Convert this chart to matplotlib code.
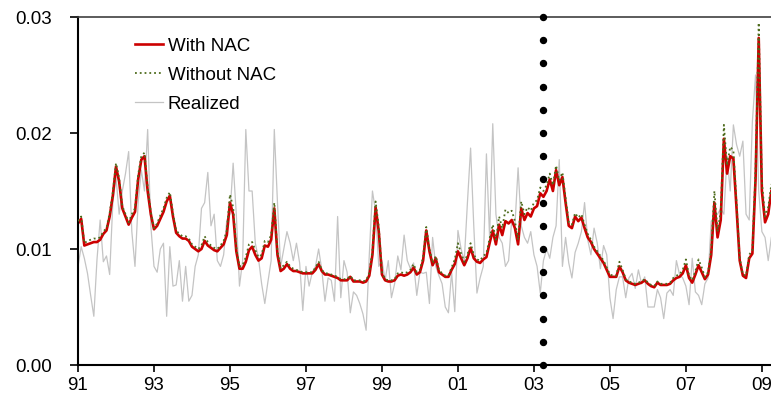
import numpy as np
import matplotlib
matplotlib.use('Agg')
import matplotlib.pyplot as plt

plt.rcParams['font.family'] = ['Liberation Sans', 'DejaVu Sans']

# monthly observations, Jan 1991 .. Apr 2009
start_year = 1991
with_nac = [
    0.0122, 0.0126, 0.0103, 0.0104, 0.0105, 0.0106, 0.0106, 0.0108, 0.0113, 0.0116, 0.0128, 0.0146,
    0.0171, 0.0158, 0.0135, 0.0128, 0.0121, 0.0127, 0.0132, 0.0160, 0.0177, 0.0180, 0.0150, 0.0130,
    0.0117, 0.0120, 0.0126, 0.0132, 0.0141, 0.0146, 0.0128, 0.0114, 0.0111, 0.0109, 0.0109, 0.0107,
    0.0102, 0.0100, 0.0098, 0.0100, 0.0107, 0.0103, 0.0101, 0.0099, 0.0098, 0.0101, 0.0104, 0.0112,
    0.0140, 0.0130, 0.0098, 0.0083, 0.0083, 0.0089, 0.0099, 0.0102, 0.0095, 0.0090, 0.0092, 0.0103,
    0.0102, 0.0108, 0.0135, 0.0095, 0.0081, 0.0083, 0.0087, 0.0083, 0.0081, 0.0081, 0.0080, 0.0079,
    0.0079, 0.0079, 0.0079, 0.0082, 0.0087, 0.0081, 0.0078, 0.0078, 0.0077, 0.0076, 0.0075, 0.0073,
    0.0073, 0.0073, 0.0076, 0.0072, 0.0072, 0.0072, 0.0071, 0.0072, 0.0077, 0.0095, 0.0136, 0.0115,
    0.0078, 0.0073, 0.0072, 0.0072, 0.0073, 0.0077, 0.0078, 0.0077, 0.0078, 0.0080, 0.0084, 0.0078,
    0.0080, 0.0090, 0.0116, 0.0098, 0.0086, 0.0092, 0.0080, 0.0078, 0.0076, 0.0076, 0.0082, 0.0087,
    0.0098, 0.0092, 0.0086, 0.0092, 0.0101, 0.0092, 0.0089, 0.0088, 0.0091, 0.0093, 0.0105, 0.0116,
    0.0104, 0.0121, 0.0112, 0.0124, 0.0122, 0.0125, 0.0118, 0.0104, 0.0135, 0.0125, 0.0131, 0.0128,
    0.0135, 0.0137, 0.0148, 0.0145, 0.0150, 0.0160, 0.0150, 0.0168, 0.0155, 0.0162, 0.0140, 0.0120,
    0.0118, 0.0128, 0.0124, 0.0127, 0.0118, 0.0110, 0.0106, 0.0100, 0.0096, 0.0092, 0.0088, 0.0082,
    0.0076, 0.0076, 0.0076, 0.0085, 0.0080, 0.0073, 0.0071, 0.0070, 0.0069, 0.0070, 0.0071, 0.0073,
    0.0070, 0.0068, 0.0067, 0.0071, 0.0069, 0.0069, 0.0069, 0.0070, 0.0073, 0.0075, 0.0076, 0.0079,
    0.0086, 0.0075, 0.0071, 0.0078, 0.0086, 0.0080, 0.0074, 0.0078, 0.0095, 0.0140, 0.0110, 0.0125,
    0.0195, 0.0165, 0.0180, 0.0178, 0.0135, 0.0090, 0.0077, 0.0075, 0.0092, 0.0096, 0.0160, 0.0282,
    0.0150, 0.0123, 0.0130, 0.0150,
]
without_nac = [
    0.0124, 0.0128, 0.0105, 0.0107, 0.0108, 0.0109, 0.0109, 0.0110, 0.0115, 0.0118, 0.0131, 0.0149,
    0.0174, 0.0161, 0.0137, 0.0130, 0.0123, 0.0130, 0.0135, 0.0164, 0.0180, 0.0183, 0.0153, 0.0132,
    0.0118, 0.0122, 0.0129, 0.0135, 0.0144, 0.0149, 0.0131, 0.0116, 0.0113, 0.0111, 0.0111, 0.0109,
    0.0104, 0.0102, 0.0100, 0.0103, 0.0111, 0.0106, 0.0103, 0.0101, 0.0100, 0.0103, 0.0107, 0.0116,
    0.0147, 0.0136, 0.0101, 0.0085, 0.0086, 0.0093, 0.0104, 0.0106, 0.0099, 0.0093, 0.0095, 0.0107,
    0.0106, 0.0112, 0.0140, 0.0098, 0.0083, 0.0086, 0.0089, 0.0085, 0.0083, 0.0082, 0.0081, 0.0080,
    0.0080, 0.0080, 0.0080, 0.0084, 0.0089, 0.0082, 0.0079, 0.0079, 0.0078, 0.0077, 0.0076, 0.0074,
    0.0074, 0.0074, 0.0077, 0.0073, 0.0073, 0.0073, 0.0072, 0.0073, 0.0079, 0.0099, 0.0141, 0.0119,
    0.0080, 0.0074, 0.0073, 0.0073, 0.0074, 0.0079, 0.0080, 0.0079, 0.0080, 0.0082, 0.0087, 0.0080,
    0.0082, 0.0093, 0.0119, 0.0100, 0.0088, 0.0094, 0.0082, 0.0079, 0.0077, 0.0077, 0.0084, 0.0091,
    0.0105, 0.0096, 0.0089, 0.0095, 0.0105, 0.0095, 0.0091, 0.0090, 0.0094, 0.0096, 0.0109, 0.0121,
    0.0108, 0.0128, 0.0118, 0.0134, 0.0131, 0.0133, 0.0124, 0.0108, 0.0141, 0.0130, 0.0136, 0.0133,
    0.0140, 0.0142, 0.0153, 0.0150, 0.0155, 0.0165, 0.0155, 0.0172, 0.0159, 0.0166, 0.0144, 0.0123,
    0.0121, 0.0131, 0.0127, 0.0130, 0.0121, 0.0113, 0.0108, 0.0102, 0.0098, 0.0094, 0.0090, 0.0084,
    0.0078, 0.0077, 0.0077, 0.0089, 0.0082, 0.0074, 0.0072, 0.0071, 0.0070, 0.0071, 0.0072, 0.0074,
    0.0071, 0.0069, 0.0068, 0.0072, 0.0070, 0.0070, 0.0070, 0.0071, 0.0075, 0.0077, 0.0078, 0.0082,
    0.0091, 0.0077, 0.0073, 0.0081, 0.0091, 0.0084, 0.0076, 0.0080, 0.0099, 0.0150, 0.0115, 0.0132,
    0.0207, 0.0172, 0.0188, 0.0185, 0.0140, 0.0092, 0.0078, 0.0077, 0.0095, 0.0099, 0.0168, 0.0295,
    0.0158, 0.0128, 0.0136, 0.0156,
]
realized = [
    0.0085, 0.0102, 0.0092, 0.0079, 0.0060, 0.0042, 0.0091, 0.0125, 0.0089, 0.0094, 0.0078, 0.0140,
    0.0162, 0.0130, 0.0150, 0.0165, 0.0184, 0.0115, 0.0085, 0.0140, 0.0168, 0.0150, 0.0203, 0.0120,
    0.0085, 0.0080, 0.0100, 0.0105, 0.0042, 0.0102, 0.0068, 0.0069, 0.0090, 0.0055, 0.0085, 0.0055,
    0.0060, 0.0085, 0.0095, 0.0135, 0.0140, 0.0166, 0.0120, 0.0130, 0.0090, 0.0085, 0.0095, 0.0125,
    0.0130, 0.0174, 0.0130, 0.0068, 0.0090, 0.0203, 0.0150, 0.0150, 0.0105, 0.0092, 0.0070, 0.0053,
    0.0072, 0.0090, 0.0203, 0.0140, 0.0085, 0.0100, 0.0115, 0.0105, 0.0090, 0.0105, 0.0088, 0.0047,
    0.0085, 0.0068, 0.0080, 0.0085, 0.0100, 0.0082, 0.0055, 0.0075, 0.0073, 0.0055, 0.0128, 0.0058,
    0.0090, 0.0080, 0.0045, 0.0063, 0.0060, 0.0053, 0.0044, 0.0030, 0.0095, 0.0150, 0.0132, 0.0085,
    0.0090, 0.0073, 0.0090, 0.0058, 0.0070, 0.0094, 0.0082, 0.0112, 0.0090, 0.0083, 0.0088, 0.0060,
    0.0080, 0.0079, 0.0080, 0.0053, 0.0110, 0.0085, 0.0077, 0.0070, 0.0050, 0.0045, 0.0080, 0.0046,
    0.0116, 0.0100, 0.0090, 0.0140, 0.0187, 0.0120, 0.0062, 0.0075, 0.0085, 0.0182, 0.0110, 0.0208,
    0.0130, 0.0110, 0.0105, 0.0085, 0.0090, 0.0125, 0.0120, 0.0170, 0.0120, 0.0110, 0.0105, 0.0115,
    0.0095, 0.0085, 0.0062, 0.0090, 0.0100, 0.0092, 0.0110, 0.0120, 0.0177, 0.0085, 0.0110, 0.0088,
    0.0075, 0.0097, 0.0105, 0.0115, 0.0140, 0.0108, 0.0095, 0.0118, 0.0105, 0.0083, 0.0103, 0.0095,
    0.0058, 0.0040, 0.0065, 0.0076, 0.0076, 0.0058, 0.0075, 0.0079, 0.0066, 0.0082, 0.0070, 0.0076,
    0.0050, 0.0050, 0.0050, 0.0065, 0.0058, 0.0040, 0.0062, 0.0065, 0.0060, 0.0090, 0.0078, 0.0075,
    0.0068, 0.0052, 0.0092, 0.0063, 0.0060, 0.0052, 0.0070, 0.0075, 0.0124, 0.0128, 0.0130, 0.0135,
    0.0130, 0.0180, 0.0150, 0.0207, 0.0190, 0.0180, 0.0193, 0.0130, 0.0125, 0.0210, 0.0250, 0.0150,
    0.0115, 0.0110, 0.0090, 0.0110,
]
break_date = 2003.24
tick_years = list(range(1991, 2010, 2))
tick_labels = ['%02d' % (y % 100) for y in tick_years]

dates = start_year + np.arange(len(with_nac)) / 12.0

fig = plt.figure(figsize=(7.71, 3.97), dpi=100)
ax = fig.add_axes([78 / 771, 32 / 397, 693 / 771, 348 / 397])

ax.plot(dates, realized, color='#c4c4c4', lw=0.9, label='Realized', zorder=1)
ax.plot(dates, with_nac, color='#cc0000', lw=1.9, label='With NAC', zorder=2)
ax.plot(dates, without_nac, color='#4d6b1c', lw=1.3, ls=':', label='Without NAC', zorder=3)

# break marker: a column of round dots over the full y range
ax.set_ylim(0, 0.03)
dot_y = np.linspace(*ax.get_ylim(), 16)
ax.plot(np.full_like(dot_y, break_date), dot_y, ls='none', marker='o', ms=4.3,
        color='black', clip_on=False, zorder=4)

ax.set_xlim(1991, 2009.24)
ax.set_xticks(tick_years)
ax.set_xticklabels(tick_labels)
ax.set_yticks([0, 0.01, 0.02, 0.03])
ax.set_yticklabels(['0.00', '0.01', '0.02', '0.03'])
ax.tick_params(axis='y', length=6, width=1.2, pad=13, labelsize=13.5)
ax.tick_params(axis='x', length=5, width=1.2, pad=4, labelsize=13.5)

ax.spines['right'].set_visible(False)
ax.spines['top'].set_color('#404040')
ax.spines['top'].set_linewidth(1.2)
ax.spines['left'].set_linewidth(1.5)
ax.spines['bottom'].set_linewidth(1.5)

handles, labels = ax.get_legend_handles_labels()
order = [1, 2, 0]
ax.legend([handles[i] for i in order], [labels[i] for i in order],
          loc='upper left', bbox_to_anchor=(0.082, 0.94), frameon=False,
          fontsize=13.5, handlelength=1.5, handletextpad=0.25, labelspacing=0.62,
          borderpad=0, borderaxespad=0)

fig.savefig('out.png', dpi=100)
